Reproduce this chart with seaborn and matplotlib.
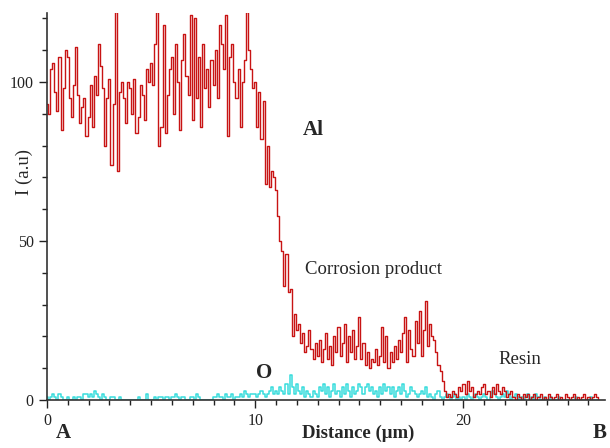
import numpy as np
import pandas as pd
import matplotlib.pyplot as plt
import seaborn as sns

STEP_UM = 0.1

AL_COUNTS = [
    93, 90, 104, 106, 97, 91, 108, 85, 98, 110,
    108, 95, 89, 99, 111, 96, 87, 92, 95, 83,
    89, 99, 86, 102, 96, 112, 105, 98, 80, 95,
    101, 74, 93, 122, 72, 97, 100, 95, 87, 100,
    98, 90, 101, 84, 89, 99, 96, 88, 104, 100,
    106, 99, 112, 122, 80, 86, 118, 84, 96, 104,
    108, 90, 112, 100, 85, 107, 115, 102, 96, 121,
    88, 120, 95, 108, 86, 112, 98, 104, 92, 107,
    99, 110, 95, 118, 112, 104, 121, 83, 108, 112,
    100, 95, 104, 86, 100, 107, 122, 110, 104, 98,
    100, 86, 97, 82, 94, 68, 80, 67, 72, 70,
    66, 58, 50, 47, 36, 46, 34, 35, 20, 27,
    22, 24, 18, 21, 15, 17, 22, 16, 13, 18,
    14, 19, 12, 16, 21, 13, 17, 11, 20, 15,
    23, 14, 18, 24, 12, 20, 15, 22, 13, 17,
    26, 13, 18, 11, 15, 10, 13, 12, 16, 11,
    14, 23, 12, 20, 10, 15, 12, 17, 13, 19,
    15, 21, 26, 12, 22, 16, 14, 25, 18, 28,
    14, 22, 31, 17, 24, 20, 19, 15, 11, 9,
    6, 3, 1, 2, 1, 3, 2, 1, 4, 3,
    5, 2, 6, 3, 4, 1, 2, 3, 2, 4,
    5, 2, 3, 1, 4, 2, 5, 3, 2, 4,
    3, 1, 2, 3, 1, 0, 2, 1, 0, 2,
    1, 2, 0, 1, 2, 0, 1, 2, 0, 1,
    0, 2, 1, 0, 1, 2, 0, 1, 0, 2,
    1, 0, 1, 2, 0, 1, 0, 1, 2, 0,
    1, 0, 1, 2, 1, 0,
]

O_COUNTS = [
    1, 0, 1, 2, 1, 0, 2, 1, 0, 0,
    1, 0, 0, 1, 0, 1, 1, 0, 2, 2,
    1, 2, 1, 3, 2, 1, 0, 2, 1, 0,
    0, 1, 1, 0, 0, 1, 0, 0, 0, 0,
    0, 0, 0, 0, 1, 0, 0, 0, 2, 0,
    0, 0, 1, 0, 1, 1, 0, 1, 1, 0,
    1, 1, 2, 1, 0, 1, 1, 0, 0, 1,
    1, 0, 2, 1, 0, 0, 0, 0, 0, 0,
    1, 1, 2, 1, 1, 0, 2, 1, 1, 2,
    0, 1, 1, 2, 1, 3, 2, 1, 2, 2,
    2, 1, 2, 3, 2, 1, 2, 3, 4, 2,
    3, 2, 4, 3, 2, 5, 2, 8, 4, 2,
    5, 3, 2, 4, 1, 3, 2, 1, 3, 2,
    1, 4, 3, 5, 2, 4, 1, 3, 5, 2,
    3, 1, 4, 2, 5, 3, 1, 4, 2, 3,
    5, 4, 2, 4, 5, 3, 4, 2, 3, 1,
    4, 2, 5, 3, 4, 2, 4, 1, 3, 4,
    2, 5, 3, 1, 2, 4, 3, 2, 1, 2,
    3, 2, 4, 1, 2, 1, 0, 2, 3, 1,
    0, 1, 2, 1, 0, 1, 2, 0, 1, 0,
    1, 0, 2, 1, 0, 1, 2, 1, 0, 1,
    2, 1, 0, 1, 3, 2, 1, 0, 1, 2,
    1, 3, 2, 0, 1, 2, 1, 0, 1, 0,
    1, 2, 0, 1, 0, 2, 1, 0, 0, 1,
    0, 0, 1, 0, 0, 0, 1, 0, 0, 0,
    0, 0, 0, 0, 1, 0, 0, 0, 0, 0,
    0, 1, 0, 0, 0, 0,
]

SERIF = "Liberation Serif"


def main() -> None:
    sns.set_style("ticks")
    plt.rcParams["font.family"] = [SERIF, "DejaVu Serif"]

    dist = np.arange(len(AL_COUNTS)) * STEP_UM
    scan = pd.DataFrame({"distance": dist, "Al": AL_COUNTS, "O": O_COUNTS})

    fig = plt.figure(figsize=(6.1, 4.48), dpi=100)
    ax = fig.add_axes([0.077, 0.107, 0.915, 0.864])

    sns.lineplot(data=scan, x="distance", y="O", color="#38dcdc", lw=1.1,
                 drawstyle="steps-mid", estimator=None, ax=ax)
    sns.lineplot(data=scan, x="distance", y="Al", color="#c81414", lw=1.0,
                 drawstyle="steps-mid", estimator=None, ax=ax)

    ax.set_xlim(0, 26.8)
    ax.set_ylim(0, 121.7)
    ax.set_xticks([0, 10, 20])
    ax.set_xticks(np.arange(0, 27, 1), minor=True)
    ax.set_yticks([0, 50, 100])
    ax.set_yticks(np.arange(0, 121, 10), minor=True)
    ax.tick_params(axis="both", which="major", length=6, width=1, labelsize=11.5, colors="#222222")
    ax.tick_params(axis="both", which="minor", length=3.5, width=1, colors="#222222")
    ax.tick_params(axis="x", which="major", pad=3)
    sns.despine(ax=ax)
    for side in ["left", "bottom"]:
        ax.spines[side].set_color("#333333")
        ax.spines[side].set_linewidth(1.2)

    ax.set_xlabel("")
    ax.set_ylabel("I (a.u)", fontsize=13.5)
    ax.yaxis.set_label_coords(-0.025, 0.59)

    # x-axis caption row: A ... Distance ... B
    ax.text(0.029, -0.085, "A", transform=ax.transAxes, fontsize=15, fontweight="bold", va="center", ha="center")
    ax.text(0.99, -0.085, "B", transform=ax.transAxes, fontsize=15, fontweight="bold", va="center", ha="center")
    ax.text(0.557, -0.085, "Distance (\u03bcm)", transform=ax.transAxes, fontsize=13.5, fontweight="bold", va="center", ha="center")

    ax.text(12.3, 85, "Al", fontsize=15, fontweight="bold", ha="left", va="center")
    ax.text(12.4, 41, "Corrosion product", fontsize=13.5, ha="left", va="center")
    ax.text(10.45, 8.5, "O", fontsize=15, fontweight="bold", ha="center", va="center")
    ax.text(22.7, 12.6, "Resin", fontsize=13.5, ha="center", va="center")

    fig.savefig("out.png", dpi=100)
    plt.close(fig)


if __name__ == "__main__":
    main()
